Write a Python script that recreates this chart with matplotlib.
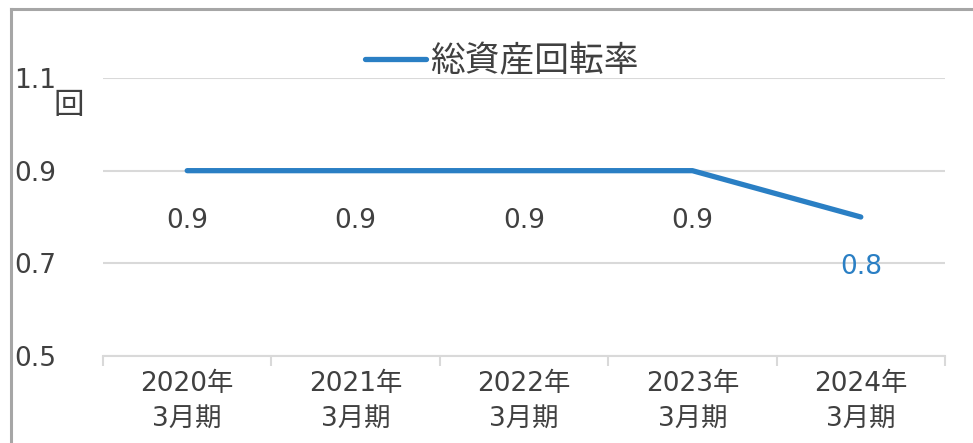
import matplotlib
matplotlib.use("Agg")
import matplotlib.pyplot as plt
from matplotlib.lines import Line2D
from matplotlib.transforms import ScaledTranslation

plt.rcParams['font.family'] = ['DejaVu Sans', 'Noto Sans CJK JP']

# ===== データ =====
periods = ["2020年\n3月期", "2021年\n3月期", "2022年\n3月期", "2023年\n3月期", "2024年\n3月期"]
turnover = [0.9, 0.9, 0.9, 0.9, 0.8]
label_colors = ["#404040", "#404040", "#404040", "#404040", "#2a7fc4"]
yticks = [0.5, 0.7, 0.9, 1.1]
series_name = "総資産回転率"
unit = "回"

line_color = "#2a7fc4"
text_color = "#404040"
grid_color = "#d9d9d9"

W, H = 973, 443
fig = plt.figure(figsize=(W/100, H/100), dpi=100)
ax = fig.add_axes([103/W, 1 - 356/H, (945-103)/W, (356-78)/H])

x = list(range(len(periods)))
ax.plot(x, turnover, color=line_color, lw=3.8, solid_capstyle='round',
        solid_joinstyle='round', label=series_name, zorder=3)

# データラベル（点の下）
for xi, v, c in zip(x, turnover, label_colors):
    ax.annotate(f"{v:.1f}", (xi, v), xytext=(0, -36), textcoords='offset points',
                ha='center', va='center', fontsize=19, color=c)

ax.set_xlim(-0.5, len(periods) - 0.5)
ax.set_ylim(0.5, 1.1)

# y軸
ax.set_yticks(yticks)
ax.set_yticklabels([f"{t:.1f}" for t in yticks], fontsize=19, color=text_color)
up = ScaledTranslation(0, 4/100, fig.dpi_scale_trans)
for lbl in ax.get_yticklabels():
    lbl.set_horizontalalignment('left')
    lbl.set_transform(lbl.get_transform() + up)
ax.tick_params(axis='y', length=0, pad=64)
ax.grid(axis='y', color=grid_color, lw=1.5)
ax.set_axisbelow(True)

# x軸
ax.set_xticks(x)
ax.set_xticklabels(periods, fontsize=19, color=text_color, linespacing=1.45)
ax.set_xticks([i - 0.5 for i in range(len(periods) + 1)], minor=True)
ax.tick_params(axis='x', which='major', length=0, pad=11)
ax.tick_params(axis='x', which='minor', length=7, width=1.5, color=grid_color)

for s in ['top', 'right', 'left']:
    ax.spines[s].set_visible(False)
ax.spines['bottom'].set_color(grid_color)
ax.spines['bottom'].set_linewidth(1.5)

# 単位
fig.text(69/W, 1 - 106/H, unit, fontsize=22, color=text_color, ha='center', va='center')

# 凡例
fig.legend(loc='center', bbox_to_anchor=(502/W, 1 - 61/H), frameon=False,
           fontsize=25, handlelength=1.75, handletextpad=0.12, labelcolor=text_color)

# 外枠
fig.add_artist(Line2D([11/W, 11/W], [0, 1 - 9/H], color="#a6a6a6", lw=2.2))
fig.add_artist(Line2D([11/W, 1], [1 - 9/H, 1 - 9/H], color="#a6a6a6", lw=2.2))

fig.savefig("out.png", dpi=100)
